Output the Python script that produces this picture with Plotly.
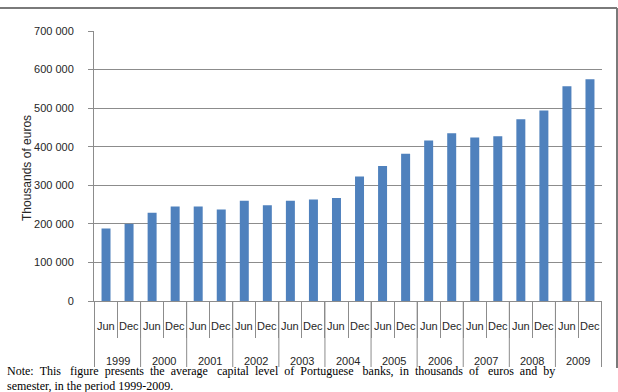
import plotly.graph_objects as go

# ---------------- data ----------------
years = ["1999", "2000", "2001", "2002", "2003", "2004",
         "2005", "2006", "2007", "2008", "2009"]
semesters = ["Jun", "Dec"]
capital = [188000, 200000, 229000, 245000, 245000, 237000, 260000, 248000,
           260000, 263000, 267000, 323000, 350000, 382000, 416000, 435000,
           424000, 427000, 471000, 494000, 557000, 575000]
y_tickvals = [0, 100000, 200000, 300000, 400000, 500000, 600000, 700000]
y_ticktext = ["0", "100 000", "200 000", "300 000", "400 000",
              "500 000", "600 000", "700 000"]
y_title = "Thousands of euros"
note_lines = [
    "Note: This figure presents the average capital level of Portuguese banks, in thousands of euros and by",
    "semester, in the period 1999-2009.",
]

# ---------------- layout geometry ----------------
W, H = 618, 392
L, R, T, B = 94, 16, 31, 91
PW, PH = W - L - R, H - T - B


def px_x(p):
    return (p - L) / PW


def px_y(p):
    return (H - B - p) / PH


def justify(line, extra):
    """Widen the word gaps of a line with non-breaking spaces (justified look)."""
    words = line.split(" ")
    gaps = len(words) - 1
    out = words[0]
    acc = 0.0
    for i, w in enumerate(words[1:]):
        acc += extra / gaps
        n = int(round(acc))
        acc -= n
        out += " " + "\u00a0" * n + w
    return out


GREY = "#8C8C8C"
SANS = "Liberation Sans, Arial, sans-serif"
SERIF = "Liberation Serif, Times New Roman, serif"

cats = [f"{s} {y}" for y in years for s in semesters]
months = [s for _ in years for s in semesters]

fig = go.Figure(go.Bar(x=cats, y=capital, marker_color="#4F81BD",
                       marker_line_width=0, hoverinfo="skip"))

fig.update_layout(
    width=W, height=H,
    margin=dict(l=L, r=R, t=T, b=B, pad=0),
    paper_bgcolor="white", plot_bgcolor="white",
    bargap=0.61, showlegend=False,
    font=dict(family=SANS, size=11, color="#262626"),
)
fig.update_xaxes(type="category", categoryorder="array", categoryarray=cats,
                 showticklabels=False, showgrid=False, zeroline=False,
                 showline=True, linecolor=GREY, linewidth=1,
                 ticks="outside", tickson="boundaries", ticklen=36,
                 tickcolor=GREY, tickwidth=1)
fig.update_yaxes(range=[0, 700000], tickvals=y_tickvals, ticktext=y_ticktext,
                 showgrid=True, gridcolor=GREY, gridwidth=1,
                 zeroline=False, showline=True, linecolor=GREY, linewidth=1,
                 ticks="outside", ticklen=5, tickcolor=GREY,
                 ticklabelstandoff=12,
                 tickfont=dict(family=SANS, size=11, color="#262626"))

shapes = []
# long year separators
for k in range(len(years) + 1):
    xb = 2 * k - 0.5
    shapes.append(dict(type="line", xref="x", yref="paper", x0=xb, x1=xb,
                       y0=0, y1=px_y(367), line=dict(color=GREY, width=1)))
# frame around the chart area
shapes.append(dict(type="line", xref="paper", yref="paper",
                   x0=px_x(0), x1=px_x(617), y0=px_y(8), y1=px_y(8),
                   line=dict(color="#7A7A7A", width=2)))
shapes.append(dict(type="line", xref="paper", yref="paper",
                   x0=px_x(617), x1=px_x(617), y0=px_y(8), y1=px_y(368),
                   line=dict(color="#7A7A7A", width=2)))

annotations = []
for i, m in enumerate(months):
    annotations.append(dict(x=i, xref="x", y=px_y(326), yref="paper",
                            text=m, showarrow=False, xanchor="center",
                            yanchor="middle",
                            font=dict(family=SANS, size=11, color="#262626")))
for k, yr in enumerate(years):
    annotations.append(dict(x=2 * k + 0.5, xref="x", y=px_y(361), yref="paper",
                            text=yr, showarrow=False, xanchor="center",
                            yanchor="middle",
                            font=dict(family=SANS, size=11, color="#262626")))
annotations.append(dict(x=px_x(27), xref="paper", y=px_y(168), yref="paper",
                        text=y_title, textangle=-90, showarrow=False,
                        xanchor="center", yanchor="middle",
                        font=dict(family=SANS, size=12, color="#262626")))
note_texts = [justify(note_lines[0], 20), note_lines[1]]
for j, line in enumerate(note_texts):
    annotations.append(dict(x=px_x(5), xref="paper",
                            y=px_y(371 + 15 * j), yref="paper",
                            text=line, showarrow=False, xanchor="left",
                            yanchor="middle",
                            font=dict(family=SERIF, size=12, color="black")))

fig.update_layout(shapes=shapes, annotations=annotations)
fig.write_html("out.html")
